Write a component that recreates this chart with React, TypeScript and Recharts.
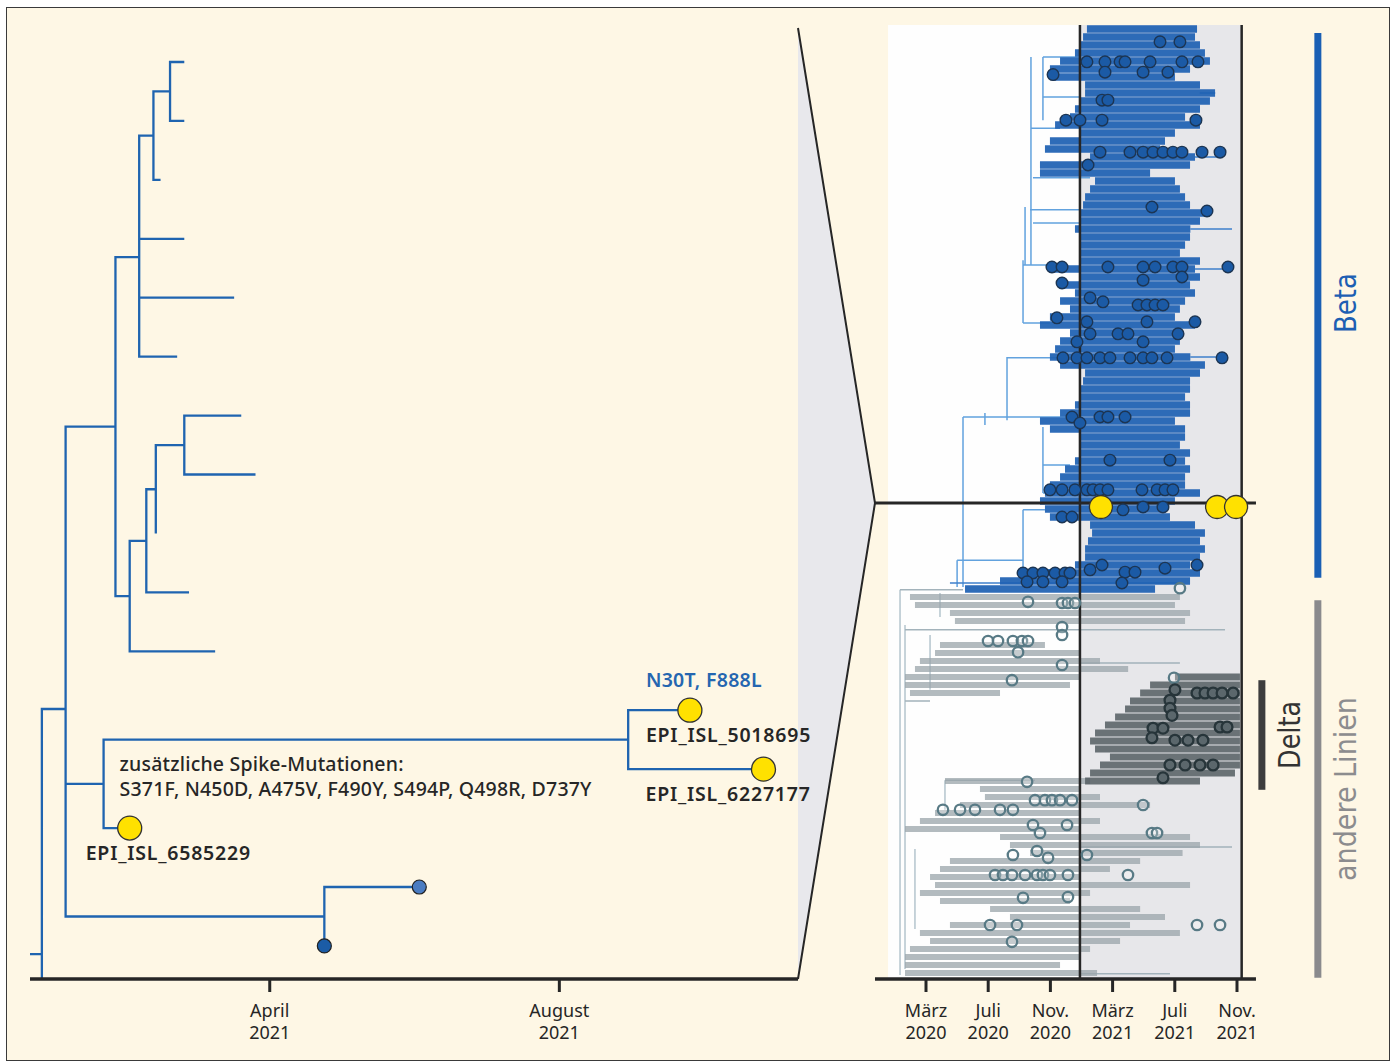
import { ComposedChart, Line, Area, Scatter, XAxis, YAxis, ReferenceArea } from 'recharts';

const FONT = '"Noto Sans", "Open Sans", sans-serif';
const NARROW = '"Liberation Sans Narrow", "DejaVu Sans Condensed", "Noto Sans", sans-serif';
const INK = '#262626';
const BLUE = '#1f64b0';
const CREAM = '#fef7e5';
const YELLOW = '#ffe100';

// ---------- left panel: detail tree, sampling dates in 2021 ----------
const leftTickDates = ['2021-04-01', '2021-08-01'];
const leftTickLabels = [['April', '2021'], ['August', '2021']];

// [id, parent, date, row] - row given for leaves (and for the root split, whose lower branch leaves the frame)
const treeNodes: [string, string | null, string, number?][] = [
  ['root', null, '2020-12-21'],
  ['n1', 'root', '2020-12-26', 15.14],
  ['outgroup', 'n1', '2020-12-26', 15.56],
  ['n2', 'n1', '2021-01-05'],
  ['n3', 'n2', '2021-01-26'],
  ['n4', 'n3', '2021-02-05'],
  ['n5', 'n4', '2021-02-11'],
  ['n6', 'n5', '2021-02-18'],
  ['l0', 'n6', '2021-02-24', 0],
  ['l1', 'n6', '2021-02-24', 1],
  ['l2', 'n5', '2021-02-14', 2],
  ['l3', 'n4', '2021-02-24', 3],
  ['l4', 'n4', '2021-03-17', 4],
  ['l5', 'n4', '2021-02-21', 5],
  ['n7', 'n3', '2021-02-01'],
  ['n8', 'n7', '2021-02-08'],
  ['n9', 'n8', '2021-02-12'],
  ['n10', 'n9', '2021-02-24'],
  ['l6', 'n10', '2021-03-20', 6],
  ['l7', 'n10', '2021-03-26', 7],
  ['l8', 'n9', '2021-02-12', 8],
  ['l9', 'n8', '2021-02-26', 9],
  ['l10', 'n7', '2021-03-09', 10],
  ['n11', 'n2', '2021-01-21'],
  ['n12', 'n11', '2021-08-30'],
  ['EPI_ISL_5018695', 'n12', '2021-09-25', 11],
  ['EPI_ISL_6227177', 'n12', '2021-10-26', 12],
  ['EPI_ISL_6585229', 'n11', '2021-02-01', 13],
  ['n13', 'n2', '2021-04-24'],
  ['l14', 'n13', '2021-06-03', 14],
  ['l15', 'n13', '2021-04-24', 15],
];

const yellowSamples = ['EPI_ISL_5018695', 'EPI_ISL_6227177', 'EPI_ISL_6585229'];
const blueSamples = [['l14', '#4a7cc2'], ['l15', '#1b5ca6']];
const branchNote = 'N30T, F888L';
const mutationNote = ['zusätzliche Spike-Mutationen:', 'S371F, N450D, A475V, F490Y, S494P, Q498R, D737Y'];

const toTime = (d: string) => Date.parse(d + 'T00:00:00Z');
const leftTicks = leftTickDates.map(toTime);
const LEFT_DOMAIN: [number, number] = [Date.UTC(2020, 11, 21, 11), Date.UTC(2021, 10, 9, 13)];

const nodeById = new Map(treeNodes.map((n) => [n[0], n]));
const childrenOf = (id: string) => treeNodes.filter((n) => n[1] === id).map((n) => n[0]);
const rowOf = (id: string): number => {
  const n = nodeById.get(id)!;
  if (n[3] !== undefined) return n[3];
  const kids = childrenOf(id);
  return kids.reduce((s, k) => s + rowOf(k), 0) / kids.length;
};
const pos: Record<string, { t: number; y: number }> = Object.fromEntries(
  treeNodes.map((n) => [n[0], { t: toTime(n[2]), y: rowOf(n[0]) }])
);
const edgeData = treeNodes
  .filter((n) => n[1])
  .flatMap((n) => {
    const p = pos[n[1] as string];
    const c = pos[n[0]];
    return [{ t: p.t, y: p.y }, { t: c.t, y: c.y }, { t: c.t, y: null }];
  });

// ---------- right panel: whole tree, months since Jan 2020 ----------
const monthTicks = [2, 6, 10, 14, 18, 22];
const monthTickLabels = [
  ['März', '2020'], ['Juli', '2020'], ['Nov.', '2020'],
  ['März', '2021'], ['Juli', '2021'], ['Nov.', '2021'],
];

// Beta lineage, rows 0..70: start / end of the dense fan per row
const betaStart = [
  12.35, 12.1, 11.9, 11.58, 10.62, 9.97, 10.17, 12.23, 12.23, 11.9,
  11.58, 11.26, 10.3, 11.9, 9.97, 9.65, 12.55, 9.33, 9.33, 12.87,
  12.55, 12.23, 12.1, 11.9, 11.9, 11.58, 11.9, 11.9, 11.9, 11.9,
  9.97, 11.9, 10.62, 11.58, 10.62, 11.26, 9.97, 9.33, 11.26, 10.62,
  10.3, 9.97, 10.62, 12.23, 12.1, 11.9, 11.9, 11.58, 10.62, 9.33,
  9.97, 11.9, 11.9, 11.9, 11.58, 10.94, 10.62, 9.97, 9.65, 9.33,
  9.65, 9.97, 12.55, 12.68, 12.42, 12.23, 12.23, 11.58, 8.05, 6.76,
  4.51,
];
const betaEnd = [
  19.43, 19.3, 19.62, 19.94, 20.26, 18.98, 18.01, 19.62, 20.59, 20.26,
  19.62, 18.66, 19.62, 18.01, 17.37, 17.05, 19.3, 18.98, 16.41, 18.01,
  18.33, 18.66, 18.98, 20.26, 19.62, 19.0, 18.98, 18.66, 18.33, 19.62,
  19.3, 19.62, 18.98, 19.3, 18.66, 18.33, 18.01, 19.3, 18.33, 18.33,
  18.01, 19.0, 19.94, 19.62, 18.98, 18.98, 18.66, 18.98, 18.98, 18.01,
  18.66, 18.66, 18.33, 18.98, 18.66, 18.98, 18.66, 18.66, 19.62, 18.01,
  17.05, 17.69, 19.3, 19.94, 19.62, 19.94, 19.62, 18.98, 19.62, 18.98,
  16.73,
];
// other lineages, rows 71..118
const otherStart = [
  0.97, 1.29, 3.54, 3.86, null, null, 2.9, 2.58, 1.61, 1.29,
  0.65, 0.65, 0.97, null, null, null, null, null, null, null,
  null, null, null, 3.22, 5.47, 5.79, 4.19, 2.58, 1.61, 0.65,
  6.76, 7.4, 8.69, 3.54, 2.9, 2.26, 2.58, 1.61, 2.9, 6.12,
  7.4, 3.54, 1.61, 2.26, 0.97, 0.65, 0.65, 0.65,
];
const otherEnd = [
  18.33, 18.01, 18.98, 18.66, null, null, 9.65, 11.9, 13.19, 15.0,
  11.9, 11.26, 6.76, null, null, null, null, null, null, null,
  null, null, null, 12.55, 11.9, 13.19, 16.41, 11.9, 13.19, 11.9,
  18.98, 19.62, 18.5, 15.77, 13.83, 11.9, 18.98, 12.55, 11.26, 15.77,
  17.37, 15.12, 18.33, 14.48, 12.55, 11.9, 10.62, 13.0,
];
// Delta, rows 81..94
const deltaStart = [18.01, 16.41, 15.77, 15.12, 14.8, 14.16, 13.51, 12.87, 12.55, 12.87, 13.83, 13.19, 12.55, 12.23];
const deltaEnd = [22.19, 22.19, 22.19, 22.19, 22.19, 22.19, 22.19, 22.19, 22.19, 22.19, 22.19, 22.19, 21.87, 19.62];

// thin single branches [row, from, to]
const betaTails = [[8.5, 19.6, 20.6], [16.5, 19.3, 20.91], [25.5, 19.0, 21.68], [30.5, 19.3, 21.42], [41.5, 19.0, 21.04], [69.75, 3.54, 18.33]];
const betaLinks = [
  [49, 4.38, 11.9], [41.6, 7.21, 10.62], [37.25, 8.24, 9.97], [30, 8.24, 9.97], [24.75, 8.88, 11.9],
  [23.1, 8.69, 11.9], [19.1, 8.88, 12.55], [12.9, 8.75, 10.62], [9, 9.52, 11.9], [4, 9.52, 11.9],
  [58.5, 9.52, 10.62], [55, 9.52, 11.26], [68.1, 8.24, 9.97], [60.6, 8.24, 9.65], [66.9, 4.0, 8.24],
];
// vertical stems [month, fromRow, toRow]
const betaStems = [
  [4.38, 49, 70.25], [7.21, 41.5, 49.4], [8.24, 29.4, 37.25], [8.37, 22.75, 30], [8.75, 4, 30],
  [9.52, 4, 11.9], [9.52, 50.25, 58.5], [8.24, 60.6, 68.1], [4.0, 66.9, 70.25], [5.79, 48.5, 50],
];
const otherThin = [[75.6, 0.65, 21.23], [79.75, 11.9, 18.33], [102.75, 11.9, 21.68], [118.6, 11.9, 17.69], [70.6, 0.33, 4.38], [94.4, 3.22, 9.0], [84.5, 0.65, 2.26]];
const otherStems = [[0.33, 70.6, 118.75], [0.65, 75, 118], [2.26, 76.25, 83.1], [3.22, 94.4, 98.1], [1.29, 103, 113], [2.9, 71, 74]];

const betaDots = [
  [17.05, 2.1], [18.33, 2.1],
  [12.35, 4.6], [13.51, 4.6], [14.48, 4.6], [14.8, 4.6], [16.41, 4.6], [18.46, 4.6], [19.49, 4.6],
  [10.17, 6.2], [13.51, 5.9], [15.96, 5.9], [17.56, 5.9],
  [13.32, 9.4], [13.7, 9.4],
  [11.0, 11.9], [11.9, 11.9], [13.32, 11.9], [19.36, 11.9],
  [13.19, 15.9], [15.12, 15.9], [15.96, 15.9], [16.6, 15.9], [17.24, 15.9], [17.88, 15.9], [18.46, 15.9], [19.75, 15.9], [20.91, 15.9],
  [12.42, 17.5], [16.53, 22.75], [20.07, 23.25],
  [10.1, 30.25], [10.75, 30.25], [13.7, 30.25], [15.96, 30.25], [16.73, 30.25], [17.88, 30.25], [18.46, 30.25], [21.42, 30.25],
  [18.46, 31.5], [15.96, 31.9], [10.75, 32.25],
  [12.55, 34.1], [13.38, 34.6], [15.64, 35], [16.21, 35], [16.73, 35], [17.24, 35],
  [10.42, 36.6], [12.35, 37.1], [16.21, 37.1], [19.3, 37.1],
  [12.55, 38.6], [14.35, 38.6], [14.99, 38.6], [18.21, 38.6],
  [11.71, 39.6], [15.96, 39.6],
  [10.81, 41.6], [11.71, 41.6], [12.35, 41.6], [13.19, 41.6], [13.83, 41.6], [15.12, 41.6], [15.96, 41.6], [16.53, 41.6], [17.5, 41.6], [21.04, 41.6],
  [11.39, 49], [13.19, 49], [13.7, 49], [14.8, 49], [11.9, 49.75],
  [13.83, 54.4], [17.69, 54.4],
  [9.97, 58.1], [10.75, 58.1], [11.58, 58.1], [12.35, 58.1], [12.74, 58.1], [13.19, 58.1], [13.7, 58.1], [15.89, 58.1], [16.86, 58.1], [17.37, 58.1], [17.88, 58.1],
  [14.67, 60.6], [15.96, 60.25], [17.24, 60.25], [10.75, 61.5], [11.39, 61.5],
  [13.32, 67.5], [12.55, 68.1], [14.8, 68.4], [15.44, 68.4], [17.37, 67.9], [19.43, 67.5],
  [8.24, 68.5], [8.88, 68.5], [9.52, 68.5], [10.3, 68.5], [10.94, 68.5], [11.26, 68.5],
  [8.5, 69.6], [9.52, 69.6], [10.75, 69.6], [14.6, 69.75],
];
const otherDots = [
  [18.33, 70.4], [8.56, 72.1], [10.75, 72.25], [11.13, 72.25], [11.58, 72.25],
  [10.75, 75.25], [10.75, 76.25],
  [5.99, 77], [6.63, 77], [7.59, 77], [8.17, 77], [8.56, 77], [7.92, 78.4],
  [10.75, 80], [7.53, 81.9], [17.95, 81.6], [8.5, 94.6],
  [9.01, 96.9], [9.65, 96.9], [10.1, 96.9], [10.62, 96.9], [11.39, 96.9], [15.96, 97.5],
  [3.09, 98.1], [4.19, 98.1], [5.15, 98.1], [6.76, 98.1], [7.59, 98.1],
  [8.88, 100], [9.33, 101], [11.07, 100], [16.53, 101], [16.86, 101],
  [7.59, 103.75], [9.14, 103.25], [9.85, 104.1], [12.35, 103.75],
  [6.44, 106.25], [6.95, 106.25], [7.53, 106.25], [8.37, 106.25], [9.14, 106.25], [9.52, 106.25], [9.97, 106.25], [11.13, 106.25], [14.99, 106.25],
  [8.24, 109.1], [11.13, 109],
  [6.12, 112.5], [7.85, 112.5], [19.43, 112.5], [20.91, 112.5], [7.53, 114.6],
];
const deltaDots = [
  [18.01, 83.1], [19.43, 83.5], [19.94, 83.5], [20.46, 83.5], [21.04, 83.5], [21.75, 83.5],
  [17.69, 84.4], [17.69, 85.4], [17.82, 86.3],
  [16.6, 87.9], [17.24, 87.9], [20.91, 87.75], [21.36, 87.75],
  [16.53, 89.1], [18.01, 89.4], [18.85, 89.4], [19.81, 89.4],
  [17.69, 92.5], [18.66, 92.5], [19.62, 92.5], [20.46, 92.5], [17.24, 94.1],
];
const highlightDots = [[13.25, 60.25], [20.72, 60.25], [21.94, 60.25]];

const cladeRows: Record<string, [number, number]> = {
  Beta: [1, 69.1],
  'andere Linien': [71.9, 119.1],
  Delta: [81.9, 95.6],
};

// layout of the right panel (months / rows)
const RIGHT_DOMAIN: [number, number] = [-6.2315, 31.518];
const ROW_MAX = 119.25;
const TREE_START = -0.44;
const WINDOW: [number, number] = [11.9, 22.3];
const AXIS_START = -1.28;
const AXIS_END = 23.22;
const ZOOM_ROW = 59.75;
const CLADE_BAR_M = 27.2;
const DELTA_BAR_M = 23.6;

const rowBands = (first: number, starts: (number | null)[], ends: (number | null)[]) =>
  starts.flatMap((s, i) => (s == null ? [] : [[first + i + 0.5, s, ends[i] as number]]));
const hSegs = (rows: number[][]) => rows.flatMap(([r, a, b]) => [{ m: a, r }, { m: b, r }, { m: b, r: null }]);
const vSegs = (rows: number[][]) => rows.flatMap(([m, a, b]) => [{ m, r: a }, { m, r: b }, { m, r: null }]);
const pts = (rows: number[][]) => rows.map(([m, r]) => ({ m, r }));

const makeTick = (values: number[], labels: string[][]) => (props: any) => {
  const { x, y, payload } = props;
  const lines = labels[values.indexOf(payload.value)] ?? ['', ''];
  return (
    <g>
      <text x={x} y={y + 23} textAnchor="middle" fontFamily={FONT} fontSize={18} fill={INK}>
        {lines[0]}
      </text>
      <text x={x} y={y + 45} textAnchor="middle" fontFamily={FONT} fontSize={18} fill={INK}>
        {lines[1]}
      </text>
    </g>
  );
};

const noDot = { dot: false, activeDot: false, isAnimationActive: false } as const;

const DetailTree = () => (
  <ComposedChart width={820} height={1061} margin={{ top: 28, right: 22, bottom: 32, left: 30 }}>
    <XAxis
      type="number"
      dataKey="t"
      domain={LEFT_DOMAIN}
      ticks={leftTicks}
      interval={0}
      tick={makeTick(leftTicks, leftTickLabels)}
      tickSize={13}
      height={50}
      axisLine={{ stroke: INK, strokeWidth: 3.5 }}
      tickLine={{ stroke: INK, strokeWidth: 3 }}
    />
    <YAxis type="number" dataKey="y" hide domain={[-0.577, 15.561]} reversed />
    <Line data={edgeData} dataKey="y" type="stepBefore" stroke={BLUE} strokeWidth={2.3} {...noDot} />
    {blueSamples.map(([id, color]) => (
      <Scatter
        key={id}
        data={[pos[id]]}
        isAnimationActive={false}
        shape={(p: any) => <circle cx={p.cx} cy={p.cy} r={7} fill={color} stroke="#222" strokeWidth={1.2} />}
      />
    ))}
    <Scatter
      data={yellowSamples.map((id) => pos[id])}
      isAnimationActive={false}
      shape={(p: any) => <circle cx={p.cx} cy={p.cy} r={12} fill={YELLOW} stroke="#333" strokeWidth={1.3} />}
    />
    {yellowSamples.map((id) => (
      <Scatter
        key={'lab' + id}
        data={[pos[id]]}
        isAnimationActive={false}
        shape={(p: any) => (
          <text
            x={p.cx - (id === 'EPI_ISL_6227177' ? 118 : 44)}
            y={p.cy + 32}
            fontFamily={FONT}
            fontSize={19.5}
            fontWeight={600}
            letterSpacing={0.8}
            fill={INK}
          >
            {id}
          </text>
        )}
      />
    ))}
    <Scatter
      data={[pos.EPI_ISL_5018695]}
      isAnimationActive={false}
      shape={(p: any) => (
        <text x={p.cx - 44} y={p.cy - 23} fontFamily={FONT} fontSize={19.5} fontWeight={600} letterSpacing={0.3} fill="#2566b0">
          {branchNote}
        </text>
      )}
    />
    <Scatter
      data={[pos.n11]}
      isAnimationActive={false}
      shape={(p: any) => (
        <text fontFamily={FONT} fontSize={19.5} fontWeight={500} letterSpacing={0.2} fill={INK}>
          <tspan x={p.cx + 16} y={p.cy - 13}>{mutationNote[0]}</tspan>
          <tspan x={p.cx + 16} y={p.cy + 12}>{mutationNote[1]}</tspan>
        </text>
      )}
    />
  </ComposedChart>
);

const cladeLabel = (text: string, color: string, length: number) => (p: any) => (
  <text
    transform={`translate(${p.cx + 38},${p.cy}) rotate(-90)`}
    textAnchor="middle"
    fontFamily={NARROW}
    fontSize={31}
    fill={color}
    textLength={length}
    lengthAdjust="spacingAndGlyphs"
  >
    {text}
  </text>
);

const OverviewTree = () => (
  <ComposedChart width={612} height={1061} margin={{ top: 25, right: 7, bottom: 32, left: 18 }}>
    <XAxis
      type="number"
      dataKey="m"
      domain={RIGHT_DOMAIN}
      ticks={monthTicks}
      interval={0}
      tick={makeTick(monthTicks, monthTickLabels)}
      tickSize={13}
      height={50}
      axisLine={false}
      tickLine={{ stroke: INK, strokeWidth: 3 }}
    />
    <YAxis type="number" dataKey="r" hide domain={[0, ROW_MAX]} reversed />
    <ReferenceArea x1={TREE_START} x2={WINDOW[0]} y1={0} y2={ROW_MAX} fill="#fefefe" fillOpacity={1} stroke="none" />
    <ReferenceArea x1={WINDOW[0]} x2={WINDOW[1]} y1={0} y2={ROW_MAX} fill="#e7e7ea" fillOpacity={1} stroke="none" />
    <Area
      data={[{ m: RIGHT_DOMAIN[0], band: [0.375, ROW_MAX] }, { m: AXIS_START, band: [ZOOM_ROW, ZOOM_ROW] }]}
      dataKey="band"
      type="linear"
      fill="#e8e8ec"
      fillOpacity={1}
      stroke="none"
      {...noDot}
    />
    <Line
      data={[{ m: RIGHT_DOMAIN[0], r: 0.375 }, { m: AXIS_START, r: ZOOM_ROW }, { m: RIGHT_DOMAIN[0], r: ROW_MAX }]}
      dataKey="r"
      type="linear"
      stroke={INK}
      strokeWidth={2}
      {...noDot}
    />

    <Line data={vSegs(otherStems)} dataKey="r" stroke="#a9bcc6" strokeWidth={1.3} {...noDot} />
    <Line data={hSegs(otherThin)} dataKey="r" stroke="#a3b3bb" strokeWidth={1.5} {...noDot} />
    <Line data={hSegs(rowBands(71, otherStart, otherEnd))} dataKey="r" stroke="#9aa4a9" strokeOpacity={0.75} strokeWidth={6.2} {...noDot} />
    <Line data={hSegs(rowBands(81, deltaStart, deltaEnd))} dataKey="r" stroke="#545d61" strokeOpacity={0.85} strokeWidth={7} {...noDot} />
    <Line data={vSegs(betaStems)} dataKey="r" stroke="#62a2de" strokeWidth={1.5} {...noDot} />
    <Line data={hSegs(betaLinks)} dataKey="r" stroke="#62a2de" strokeWidth={1.5} {...noDot} />
    <Line data={hSegs(betaTails)} dataKey="r" stroke="#3f80cc" strokeWidth={1.6} {...noDot} />
    <Line data={hSegs(rowBands(0, betaStart, betaEnd))} dataKey="r" stroke="#1e61b3" strokeOpacity={0.93} strokeWidth={7.3} {...noDot} />

    <Line
      data={vSegs([[WINDOW[0], 0, ROW_MAX], [WINDOW[1], 0, ROW_MAX]])}
      dataKey="r"
      stroke={INK}
      strokeWidth={2.5}
      {...noDot}
    />
    <Line data={hSegs([[ZOOM_ROW, AXIS_START, AXIS_END]])} dataKey="r" stroke={INK} strokeWidth={3} {...noDot} />
    <Line data={hSegs([[ROW_MAX, AXIS_START, AXIS_END]])} dataKey="r" stroke={INK} strokeWidth={3.5} {...noDot} />

    <Scatter
      data={pts(otherDots)}
      isAnimationActive={false}
      shape={(p: any) => <circle cx={p.cx} cy={p.cy} r={5.2} fill="#ffffff" fillOpacity={0.25} stroke="#587a85" strokeWidth={2.3} />}
    />
    <Scatter
      data={pts(deltaDots)}
      isAnimationActive={false}
      shape={(p: any) => <circle cx={p.cx} cy={p.cy} r={5.4} fill="#5b676c" stroke="#27353a" strokeWidth={2.3} />}
    />
    <Scatter
      data={pts(betaDots)}
      isAnimationActive={false}
      shape={(p: any) => <circle cx={p.cx} cy={p.cy} r={5.8} fill="#1b5aa5" stroke="#1c3553" strokeWidth={1.4} />}
    />
    <Scatter
      data={pts(highlightDots)}
      isAnimationActive={false}
      shape={(p: any) => <circle cx={p.cx} cy={p.cy} r={11.5} fill={YELLOW} stroke="#333" strokeWidth={1.3} />}
    />

    <Line data={vSegs([[CLADE_BAR_M, ...cladeRows.Beta]])} dataKey="r" stroke="#1a5fb4" strokeWidth={7} {...noDot} />
    <Line data={vSegs([[CLADE_BAR_M, ...cladeRows['andere Linien']]])} dataKey="r" stroke="#8a8a8d" strokeWidth={7} {...noDot} />
    <Line data={vSegs([[DELTA_BAR_M, ...cladeRows.Delta]])} dataKey="r" stroke="#3d3d3d" strokeWidth={7} {...noDot} />
    <Scatter
      data={[{ m: CLADE_BAR_M, r: (cladeRows.Beta[0] + cladeRows.Beta[1]) / 2 - 0.3 }]}
      isAnimationActive={false}
      shape={cladeLabel('Beta', '#1d5fb3', 60)}
    />
    <Scatter
      data={[{ m: CLADE_BAR_M, r: (cladeRows['andere Linien'][0] + cladeRows['andere Linien'][1]) / 2 }]}
      isAnimationActive={false}
      shape={cladeLabel('andere Linien', '#8c8c8e', 184)}
    />
    <Scatter
      data={[{ m: DELTA_BAR_M, r: (cladeRows.Delta[0] + cladeRows.Delta[1]) / 2 }]}
      isAnimationActive={false}
      shape={cladeLabel('Delta', '#333333', 68)}
    />
  </ComposedChart>
);

export default function App() {
  return (
    <div style={{ position: 'absolute', left: 0, top: 0, width: 1392, height: 1061, background: '#fff', overflow: 'hidden' }}>
      <div
        style={{
          position: 'absolute',
          left: 6,
          top: 7,
          width: 1384,
          height: 1054,
          background: CREAM,
          border: '1.5px solid #3a3a3a',
          boxSizing: 'border-box',
        }}
      />
      {/* overview first, so the sample labels of the detail tree lie on top of the connector */}
      <div style={{ position: 'absolute', left: 780, top: 0 }}>
        <OverviewTree />
      </div>
      <div style={{ position: 'absolute', left: 0, top: 0 }}>
        <DetailTree />
      </div>
    </div>
  );
}
